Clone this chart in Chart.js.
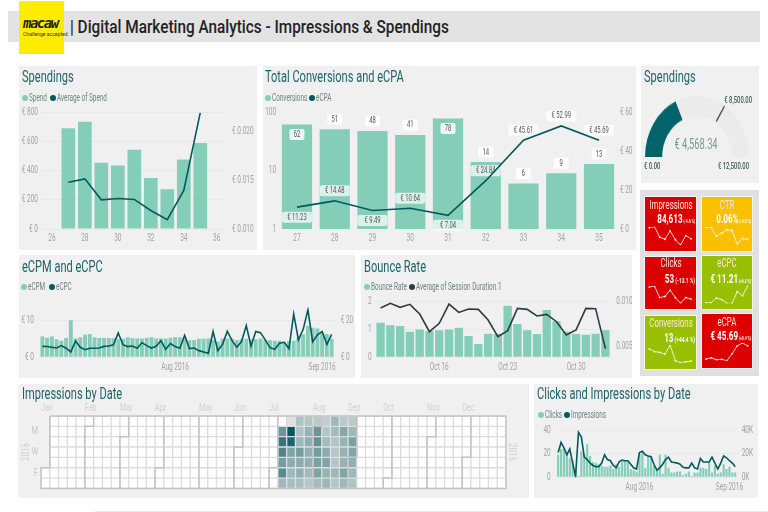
<!DOCTYPE html>
<html><head><meta charset="utf-8">
<script src="https://cdn.jsdelivr.net/npm/chart.js@4"></script>
<style>
html,body{margin:0;padding:0;background:#fff;width:768px;height:512px;overflow:hidden}
#root{position:absolute;left:0;top:0;width:768px;height:512px;font-family:Roboto,sans-serif;filter:blur(.35px)}
.p{position:absolute}.t{position:absolute;white-space:nowrap;line-height:1}
canvas{position:absolute;display:block}
</style></head><body><div id="root"></div>
<script>
// ---------- data ----------
const weeks=[27,28,29,30,31,32,33,34,35];
const spend=[693,738,455,437,546,350,274,478,592];
const avgSpend=[0.0148,0.01515,0.0130,0.01314,0.01304,0.0119,0.01096,0.01396,0.02195];
const conversions=[62,51,48,41,78,14,6,9,13];
const ecpa=[11.23,14.48,9.49,10.64,7.04,24.84,45.61,52.99,45.69];
const ecpm=[5.6,5.3,5.6,4.9,4.5,5.2,10,5.1,5.4,6.1,6.3,5.4,5.2,5.2,5.2,5.2,4.9,5.0,5.4,5.2,5.1,5.1,5.3,5.4,5.1,5.1,5.1,5.3,5.4,5.4,5.1,4.6,4.7,5.0,5.0,5.1,4.7,4.2,5.1,5.1,5.0,4.7,4.9,5.0,4.8,4.9,5.1,4.7,4.6,4.5,4.5,4.2,4.4,4.5,5.4,6.2,8.5,8.0,7.8,6.5,6.3,5.0];
const ecpc=[5.9,5.8,5.4,5.0,6.3,4.9,2.9,8.8,5.4,4.1,4.9,4.9,5.0,5.9,6.1,6.7,13.2,6.8,5.8,6.1,4.9,7.9,6.3,5.0,5.9,9.0,4.3,7.4,5.8,4.9,11.9,4.7,5.0,3.6,2.9,2.2,13.9,3.6,7.0,14.1,9.0,5.4,8.5,17.1,6.1,13.9,13.3,9.4,5.2,4.3,7.6,8.1,4.7,23.4,9.4,15.1,25.6,8.3,12.1,13.9,7.0,12.4];
const bounce=[1.24,1.15,1.13,.92,1.0,.95,.97,1.0,1.06,.77,.48,.85,.85,1.85,1.2,.97,.84,1.7,1.3,.92,.84,.81,.85,.97];
const sessionDur=[.0093,.00982,.00938,.00971,.00864,.00669,.00761,.00974,.00882,.00919,.00915,.00798,.00614,.0068,.00926,.00915,.00842,.0086,.00779,.00632,.00688,.00926,.00923,.00482];
const clicks=[19,24,25,20,16,14,6,1,22,19,28,18,13,12,11,10,9,9,10,7,11,9,13,14,13,7,6,5,20,21,8,18,18,10,6,19,3,19,8,4,4,5,5,2,3,5,1,4,4,8,8,7,13,4,10,3,4,11,7,9,4,4];
const impressions=[21,29.5,25,19,24,12,1,38,34,17,15,12,10,9,9,12,19,15,14,10,8,13,14.5,14,14,11,8,7,21,22,19,18,17.5,11,6,8,11,15,17,13,12.5,12,11,8.5,8,8,12,8,7,16,13,13,13,17,12,7,12,18,16.5,14,12,9];
const sparkImpressions=[44,46,26,22,38,21,11,29,23];
const sparkCtr=[44,44,27,33,39,38,12,23,21];
const sparkClicks=[42,44,22,24,36,22,11,22,19];
const sparkEcpc=[12,12,21,18,11,11,33,25,44];
const gaugeValue=4568.34, gaugeTarget=8500, gaugeMax=12500;
const monthNames=['Jan','Feb','Mar','Apr','May','Jun','Jul','Aug','Sep','Oct','Nov','Dec'];
const monthStartDay=[0,31,60,91,121,152,182,213,244,274,305,335];
const dataStartDay=185, yearDays=366, jan1Row=5;
const dayLabels=['M','W','F'], dayLabelRows=[1.5,3.5,5.5];
const bounceDays=['Oct 10','Oct 11','Oct 12','Oct 13','Oct 14','Oct 15','Oct 16','Oct 17','Oct 18','Oct 19','Oct 20','Oct 21','Oct 22','Oct 23','Oct 24','Oct 25','Oct 26','Oct 27','Oct 28','Oct 29','Oct 30','Oct 31','Nov 1','Nov 2'];
const bounceTickIdx={6:'Oct 16',13:'Oct 23',20:'Oct 30'};
const dateTickIdx={28:'Aug 2016',59:'Sep 2016'};
// ---------- style ----------
const BAR='#84ceb7',LINE='#02595f',TICK='#a3a3a3',GRID='#e8e8e8',PANEL='#f0f0f0';
const FONT='Roboto,sans-serif';
const root=document.getElementById('root');
Chart.defaults.animation=false;
Chart.defaults.font.family=FONT;
Chart.defaults.plugins.legend.display=false;
Chart.defaults.plugins.tooltip.enabled=false;
// condensed canvas text, like the narrow face of the reference
Chart.register({id:'narrowText',beforeInit(chart){const c=chart.ctx,f=c.fillText.bind(c);c.fillText=(s,x,y,m)=>{c.save();c.translate(x,y);c.scale(.65,1);f(s,0,0);c.restore();};}});
function box(x,y,w,h,c){const d=document.createElement('div');d.className='p';d.style.cssText=`left:${x}px;top:${y}px;width:${w}px;height:${h}px;background:${c}`;root.appendChild(d);return d;}
function txt(x,y,s,css,sx,align){const d=document.createElement('div');d.className='t';d.textContent=s;const a=align||'l';
  const tr=a==='l'?'translateY(-50%)':a==='c'?'translate(-50%,-50%)':'translate(-100%,-50%)';
  const o=a==='l'?'0 50%':a==='c'?'50% 50%':'100% 50%';
  d.style.cssText=`left:${x}px;top:${y}px;transform-origin:${o};transform:${tr} scaleX(${sx||.68});`+css;root.appendChild(d);return d;}
function title(x,y,s){txt(x,y,s,'font-size:17px;color:#1d6468',.65);}
function legend(x,y,items){let cx=x;items.forEach(([s,c,w])=>{const d=box(cx,y-3,6,6,c);d.style.borderRadius='50%';txt(cx+7,y,s,'font-size:10px;color:#6b8583',.64);cx+=7+w;});}
function canvas(x,y,w,h){const c=document.createElement('canvas');c.width=w;c.height=h;c.style.cssText=`left:${x}px;top:${y}px;width:${w}px;height:${h}px`;root.appendChild(c);return c;}
const at=a=>s=>{s.ticks=a.map(v=>({value:v}));};
const tickFont={size:10};
const tickOpt=(pad,cb)=>({color:TICK,font:tickFont,padding:pad,autoSkip:false,callback:cb});
function yAxis(width,opt){return Object.assign({display:true,grid:{color:GRID,drawTicks:false},border:{display:false},afterFit:s=>{s.width=width;}},opt);}
function y2Axis(width,opt){return Object.assign({display:true,position:'right',grid:{display:false,drawTicks:false},border:{display:false},afterFit:s=>{s.width=width;}},opt);}
function xAxis(height,pad,cb){return {offset:true,grid:{display:false,drawTicks:false},border:{display:false},afterFit:s=>{s.height=height;},ticks:{...tickOpt(pad,cb),maxRotation:0}};}
function barSet(label,data,y,pct){return {type:'bar',label,data,backgroundColor:BAR,yAxisID:y,order:2,barPercentage:pct,categoryPercentage:1};}
function lineSet(label,data,y,c){return {type:'line',label,data,borderColor:c||LINE,borderWidth:1.6,pointRadius:0,tension:0,yAxisID:y,order:1};}
const base=top=>({responsive:false,layout:{autoPadding:false,padding:{top,left:0,right:0,bottom:0}}});
// ---------- page frame ----------
box(8,11,752,31,'#e3e3e3');
box(19,1,45,53,'#ffec00');
txt(23,23,'macaw','font:italic bold 14px "DejaVu Sans Mono",monospace;color:#222;letter-spacing:-1.5px',1);
txt(23,34,'Challenge accepted.','font-size:6px;color:#333',.85);
txt(70,26,'| Digital Marketing Analytics - Impressions & Spendings','font-size:19px;font-weight:500;color:#222',.807);
box(95,511,673,1,'#e8e8e8');
// ---------- Spendings combo ----------
box(19,66,238,184,PANEL);title(22,76,'Spendings');
legend(22,98,[['Spend',BAR,21],['Average of Spend',LINE,55]]);
new Chart(canvas(19,66,238,184),{data:{datasets:[
  lineSet('Average of Spend',weeks.map((w,i)=>({x:w,y:avgSpend[i]})),'y1'),
  barSet('Spend',weeks.map((w,i)=>({x:w,y:spend[i]})),'y',.83)]},
 options:{...base(46.7),scales:{
  x:{type:'linear',min:25.4,max:36.5,afterBuildTicks:at([26,28,30,32,34,36]),...xAxis(21,3,v=>v),offset:false},
  y:yAxis(23,{min:0,max:800,afterBuildTicks:at([0,200,400,600,800]),ticks:tickOpt(4,v=>'€ '+v)}),
  y1:y2Axis(32,{min:.010,max:.02195,afterBuildTicks:at([.010,.015,.020]),ticks:tickOpt(7,v=>'€ '+v.toFixed(3))})}}});
// ---------- Conversions & eCPA ----------
box(263,66,373,184,PANEL);title(265,76,'Total Conversions and eCPA');
legend(265,98,[['Conversions',BAR,36.7],['eCPA',LINE,20]]);
function tag(ctx,x,y,s,w,fill){ctx.fillStyle=fill;ctx.beginPath();ctx.roundRect(x-w/2,y-5.5,w,11,2);ctx.fill();ctx.fillStyle='#555';ctx.font='9px '+FONT;ctx.textAlign='center';ctx.textBaseline='middle';ctx.fillText(s,x,y+.3);}
const tagsPlugin={id:'tags',afterDatasetDraw(chart,args){
  if(args.index!==1)return;const ctx=chart.ctx;ctx.save();
  const bars=chart.getDatasetMeta(1).data,pts=chart.getDatasetMeta(0).data;
  conversions.forEach((v,i)=>{const b=bars[i];tag(ctx,b.x,b.y+(v>60?10:-10),String(v),15,'rgba(255,255,255,.85)');});
  ecpa.forEach((v,i)=>{const low=i<ecpa.length-1&&v<ecpa[i+1]&&(i===0||v<ecpa[i-1]);const p=pts[i];tag(ctx,p.x,p.y+(low?10:-10),'€ '+v.toFixed(2),30,'rgba(255,255,255,.72)');});
  ctx.restore();}};
new Chart(canvas(263,66,373,184),{data:{labels:weeks,datasets:[
  lineSet('eCPA',ecpa,'y1'),barSet('Conversions',conversions,'y',.8)]},
 plugins:[tagsPlugin],
 options:{...base(46.3),scales:{
  x:xAxis(21,3,(v,i)=>weeks[i]),
  y:yAxis(15.1,{type:'logarithmic',min:1,max:100,afterBuildTicks:at([1,10,100]),grid:{display:false,drawTicks:false},ticks:tickOpt(2,v=>String(v))}),
  y1:y2Axis(18.1,{min:0,max:60,afterBuildTicks:at([0,20,40,60]),ticks:tickOpt(2,v=>'€ '+v)})}}});
// ---------- Gauge ----------
box(641,66,118,117,PANEL);title(644,76,'Spendings');
const needle={id:'needle',afterDatasetsDraw(chart){const a=chart.getDatasetMeta(0).data[0];const t=Math.PI*(1+gaugeTarget/gaugeMax);const c=chart.ctx;c.save();c.strokeStyle='#333';c.lineWidth=1.1;c.beginPath();c.moveTo(a.x+Math.cos(t)*36,a.y+Math.sin(t)*36);c.lineTo(a.x+Math.cos(t)*51.5,a.y+Math.sin(t)*51.5);c.stroke();c.restore();}};
const gc=canvas(644.5,96,104,52);gc.style.transformOrigin='0 0';gc.style.transform='scaleY(1.173)';
new Chart(gc,{type:'doughnut',data:{labels:['Spend','Remaining'],datasets:[{data:[gaugeValue,gaugeMax-gaugeValue],backgroundColor:['#02646a','#ebebeb'],borderWidth:0}]},plugins:[needle],
 options:{responsive:false,rotation:-90,circumference:180,cutout:'67%'}});
txt(696,144,'€ 4,568.34','font-size:15px;color:#7a9697',.62,'c');
txt(644,166,'€ 0.00','font-size:9px;font-weight:500;color:#3c5c5c',.65);
txt(748.7,166,'€ 12,500.00','font-size:9px;font-weight:500;color:#3c5c5c',.65,'r');
txt(752,99.7,'€ 8,500.00','font-size:9px;font-weight:500;color:#3c5c5c',.65,'r');
// ---------- KPI cards ----------
box(640,190,119,186,'#e0e0e0');
const RED='#dc0000',YEL='#f9c000',GRN='#99c000';
function kpi(x,y,w,h,c,name,val,delta,deltaSize,tY,vY,plot,data){
  const d=box(x,y,w,h,c);d.style.outline='1px solid #f4f4f4';
  txt(x+w/2,tY,name,'font-size:12.5px;color:#fbe6dc',.63,'c');
  const r=txt(x+w-1,vY,'','color:#fff;font-weight:bold',.6,'r');
  r.innerHTML=`<span style="font-size:13.5px">${val}</span><span style="font-size:${deltaSize}px"> ${delta}</span>`;
  const cv=canvas(x,y,w,h);
  new Chart(cv,{type:'line',data:{labels:weeks,datasets:[{data,borderColor:'rgba(255,255,255,.8)',borderWidth:1,pointRadius:.9,pointBackgroundColor:'rgba(255,255,255,.9)',pointBorderWidth:0,tension:0}]},
   options:{responsive:false,layout:{autoPadding:false,padding:{left:plot[0]-x,right:x+w-plot[1],top:plot[2]-y,bottom:y+h-plot[3]}},
   scales:{x:{display:false,offset:false},y:{display:false,min:Math.min(...data),max:Math.max(...data)}}}});
}
kpi(645,197,51,54,RED,'Impressions','84,613','(-4.6 %)',5.5,204.7,218.3,[649.3,691,226.7,245],sparkImpressions);
kpi(702,197,50,54,YEL,'CTR','0.06%','(-4.0 %)',5.5,204.7,218.3,[706,747.7,227.3,244.3],sparkCtr);
kpi(645,257,51,52,RED,'Clicks','53','(-13.1 %)',8,263,277.7,[649.3,691,286,303.3],sparkClicks);
kpi(702,256,50,53,GRN,'eCPC','€ 11.21','(+6.2 %)',5.5,263,277.7,[706,747.7,285.7,303.3],sparkEcpc);
kpi(645,316,51,53,GRN,'Conversions','13','(+44.4 %)',8,322.7,336.7,[649.3,691,345,362.7],conversions);
kpi(702,314,50,54,RED,'eCPA','€ 45.69','(+0.4 %)',5.5,322,335,[706,747.7,343,360.7],ecpa);
// ---------- eCPM / eCPC ----------
box(19,255,336,123,PANEL);title(22,266,'eCPM and eCPC');
legend(21.3,286.7,[['eCPM',BAR,20.4],['eCPC',LINE,18]]);
const dayIdx=ecpm.map((_,i)=>i);
new Chart(canvas(19,255,336,123),{data:{labels:dayIdx,datasets:[lineSet('eCPC',ecpc,'y1'),barSet('eCPM',ecpm,'y',.82)]},
 options:{...base(52.3),scales:{
  x:xAxis(20.7,4,(v,i)=>dateTickIdx[i]||''),
  y:yAxis(21,{min:0,max:13.5,afterBuildTicks:at([0,10]),ticks:tickOpt(6,v=>'€ '+v)}),
  y1:y2Axis(21,{min:0,max:27,afterBuildTicks:at([0,20]),ticks:tickOpt(6.7,v=>'€ '+v)})}}});
// ---------- Bounce rate ----------
box(361,255,271,123,PANEL);title(364,266,'Bounce Rate');
legend(364,286.7,[['Bounce Rate','#84ceb7',37.7],['Average of Session Duration.1','#2c3d3d',85]]);
new Chart(canvas(361,255,271,123),{data:{labels:bounceDays,datasets:[lineSet('Average of Session Duration.1',sessionDur,'y1','#2c3d3d'),barSet('Bounce Rate',bounce,'y',.85)]},
 options:{...base(46.7),scales:{
  x:xAxis(20.7,4,(v,i)=>bounceTickIdx[i]||''),
  y:yAxis(14.7,{min:0,max:2,afterBuildTicks:at([0,1,2]),ticks:tickOpt(4,v=>String(v))}),
  y1:y2Axis(21.7,{min:.00386,max:.010,afterBuildTicks:at([.005,.010]),ticks:tickOpt(6,v=>v.toFixed(3))})}}});
// ---------- Calendar heatmap ----------
box(18,384,511,114,PANEL);title(22,393,'Impressions by Date');
const maxImp=Math.max(...impressions);
const cellColor=v=>{if(v==null)return '#fff';const f=v/maxImp,m=(a,b)=>Math.round(a+(b-a)*f);return `rgb(${m(228,1)},${m(228,88)},${m(228,94)})`;};
const cells=[];
for(let d=0;d<yearDays;d++){const n=d+jan1Row,col=Math.floor(n/7),row=n%7;const k=d-dataStartDay;cells.push({x:col+.5,y:[row,row+1],v:k>=0&&k<impressions.length?impressions[k]:null});}
const colOf=d=>Math.floor((d+jan1Row)/7),rowOf=d=>(d+jan1Row)%7;
const edge=pts=>({type:'line',data:pts.map(([x,y])=>({x,y})),borderColor:'#c3c3c3',borderWidth:1.5,pointRadius:0,tension:0,order:1,clip:false});
const boundaries=monthStartDay.slice(1).map(d=>{const c=colOf(d),r=rowOf(d);return edge(r>0?[[c+1,0],[c+1,r],[c,r],[c,7]]:[[c,0],[c,7]]);});
const firstRow=rowOf(0),lastCol=colOf(yearDays-1)+1;
boundaries.push(edge([[1,0],[lastCol,0],[lastCol,7],[0,7],[0,firstRow],[1,firstRow],[1,0]]));
new Chart(canvas(18,384,511,114),{data:{datasets:[{type:'bar',data:cells,backgroundColor:c=>cellColor(c.raw&&c.raw.v),borderColor:'#dcdcdc',borderWidth:1,borderSkipped:false,barPercentage:1,categoryPercentage:1,order:2},...boundaries]},
 options:{responsive:false,layout:{autoPadding:false,padding:{top:0,left:0,right:529-506,bottom:498-489.3}},scales:{
  x:{type:'linear',position:'top',offset:false,min:0,max:lastCol,afterBuildTicks:at(monthStartDay.map(colOf)),grid:{display:false,drawTicks:false},border:{display:false},afterFit:s=>{s.height=32;},
     ticks:{color:'#d2d2d2',font:{size:11},padding:1,align:'start',autoSkip:false,maxRotation:0,callback:(v,i)=>monthNames[i]}},
  y:{reverse:true,min:0,max:7,afterBuildTicks:at(dayLabelRows),grid:{display:false,drawTicks:false},border:{display:false},afterFit:s=>{s.width=23;},
     ticks:{color:'#c6c6c6',font:{size:11},padding:3,autoSkip:false,callback:(v,i)=>dayLabels[i]}}}}});
function sideYear(x,deg){const d=document.createElement('div');d.className='t';d.textContent='2016';d.style.cssText=`left:${x}px;top:452px;font-size:11px;color:#cfcfcf;transform:translate(-50%,-50%) rotate(${deg}deg) scaleX(.72)`;root.appendChild(d);}
sideYear(25,-90);sideYear(512,90);
// ---------- Clicks & Impressions ----------
box(534,384,224,114,PANEL);title(537,393,'Clicks and Impressions by Date');
legend(537.7,414.7,[['Clicks',BAR,19],['Impressions',LINE,38]]);
new Chart(canvas(534,384,224,114),{data:{labels:dayIdx,datasets:[lineSet('Impressions',impressions,'y1'),barSet('Clicks',clicks,'y',.75)]},
 options:{...base(46),scales:{
  x:xAxis(20.7,4,(v,i)=>dateTickIdx[i]||''),
  y:yAxis(22.7,{min:0,max:40,afterBuildTicks:at([0,20,40]),ticks:tickOpt(6,v=>String(v))}),
  y1:y2Axis(21.3,{min:0,max:40,afterBuildTicks:at([0,20,40]),ticks:tickOpt(5,v=>v+'K')})}}});
</script></body></html>
